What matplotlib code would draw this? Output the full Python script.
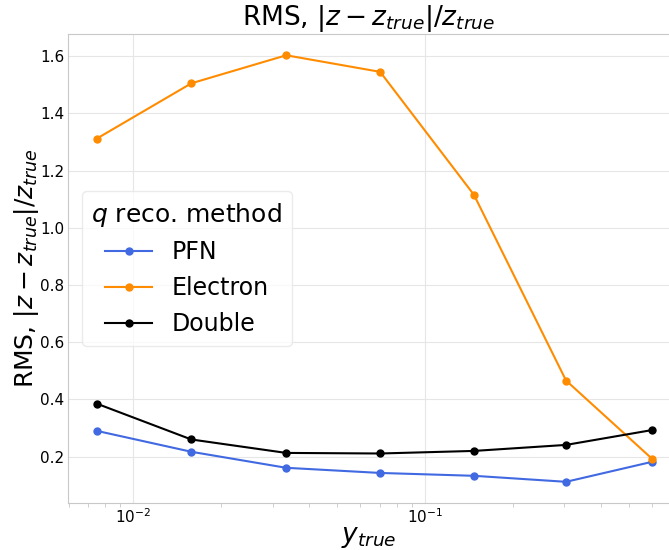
import matplotlib.pyplot as plt
import numpy as np

# y_true bin centres and RMS of |z - z_true|/z_true per reconstruction method
y_true = [0.0075, 0.0158, 0.0334, 0.0701, 0.147, 0.304, 0.60]
pfn = [0.290, 0.217, 0.161, 0.143, 0.133, 0.112, 0.182]
electron = [1.312, 1.505, 1.603, 1.545, 1.115, 0.466, 0.192]
double = [0.385, 0.260, 0.213, 0.211, 0.220, 0.241, 0.293]

fig = plt.figure(figsize=(6.69, 5.5), dpi=100)
ax = fig.add_axes([0.102, 0.086, 0.898, 0.852])

ax.plot(y_true, pfn, "o-", color="royalblue", markersize=5, linewidth=1.5, label="PFN")
ax.plot(y_true, electron, "o-", color="darkorange", markersize=5, linewidth=1.5, label="Electron")
ax.plot(y_true, double, "o-", color="black", markersize=5, linewidth=1.5, label="Double")

ax.set_xscale("log")
ax.set_xlim(0.00598, 0.685)
ax.set_ylim(0.039, 1.677)
ax.set_yticks(np.arange(0.2, 1.61, 0.2))

ax.grid(True, which="major", color="#e6e6e6", linewidth=0.8)
ax.spines["right"].set_visible(False)
for s in ["left", "bottom", "top"]:
    ax.spines[s].set_color("#c8c8c8")
ax.tick_params(axis="both", which="major", labelsize=11, length=0, pad=3,
               colors="#c8c8c8", labelcolor="black")
ax.tick_params(axis="x", which="minor", length=3, colors="#c8c8c8")

ax.set_xlabel("$y_{true}$", fontsize=19, labelpad=-1)
ax.set_ylabel("RMS, $|z - z_{true}|/z_{true}$", fontsize=18, labelpad=-1)
ax.set_title("RMS, $|z - z_{true}|/z_{true}$", fontsize=19, pad=4)

ax.legend(title="$q$ reco. method", fontsize=17, title_fontsize=18,
          loc="center left", bbox_to_anchor=(0.023, 0.5), borderaxespad=0,
          framealpha=0.8, edgecolor="#e6e6e6")

plt.savefig("out.png", dpi=100)
